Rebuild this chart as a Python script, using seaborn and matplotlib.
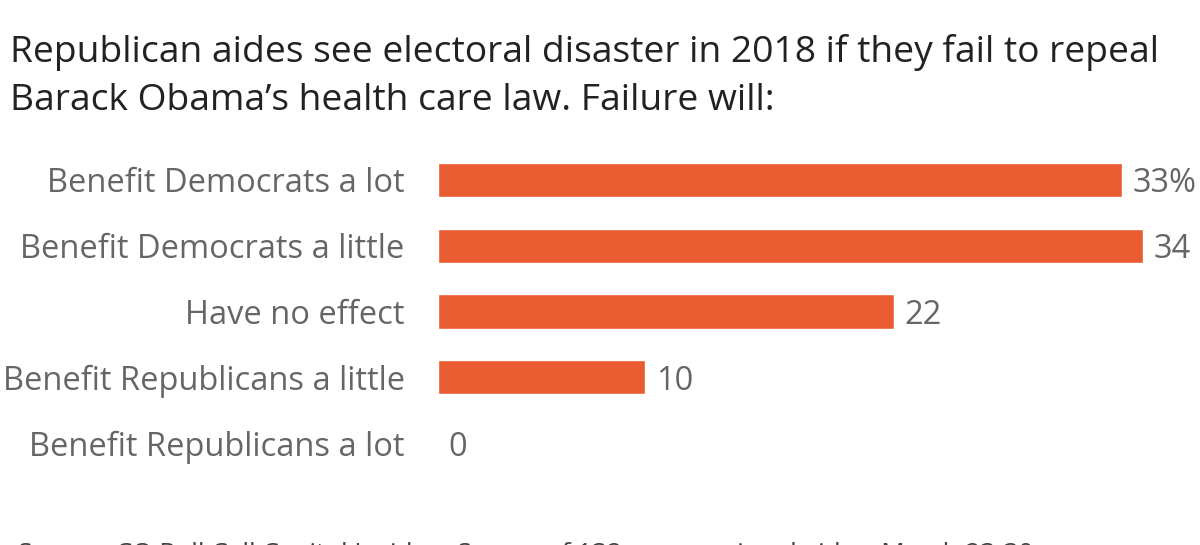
import matplotlib
matplotlib.use('Agg')
import matplotlib.pyplot as plt
import seaborn as sns
import pandas as pd

# Data
categories = ['Benefit Democrats a lot', 'Benefit Democrats a little', 'Have no effect',
              'Benefit Republicans a little', 'Benefit Republicans a lot']
values = [33, 34, 22, 10, 0]
value_labels = ['33%', '34', '22', '10', '0']

title = ("Republican aides see electoral disaster in 2018 if they fail to repeal\n"
         "Barack Obama\u2019s health care law. Failure will:")
source = "Source: CQ Roll Call Capitol Insiders Survey of 132 congressional aides, March 23-30"

df = pd.DataFrame({'category': categories, 'value': values})

sns.set_style('white')
plt.rcParams['font.family'] = ['Open Sans', 'DejaVu Sans']

fig = plt.figure(figsize=(12, 5.45), dpi=100)
ax = fig.add_axes([0.365, 0.1266, 0.635, 0.6037])

sns.barplot(data=df, x='value', y='category', color='#E95B30', saturation=1,
            width=0.52, ax=ax)

ax.set_xlim(0, 36.74)
ax.set_ylim(4.5, -0.5)
ax.set_xlabel('')
ax.set_ylabel('')
ax.set_xticks([])
ax.tick_params(axis='y', length=0, pad=24, labelsize=23.5, labelcolor='#666666')
sns.despine(ax=ax, left=True, bottom=True)

# value labels at the end of each bar
for i, (v, lab) in enumerate(zip(values, value_labels)):
    ax.text(v + 0.5, i, lab, va='center_baseline', ha='left', fontsize=23.5,
            color='#666666')

fig.text(0.008, 0.938, title, fontsize=26.8, color='#222222', ha='left', va='top',
         linespacing=1.46)
fig.text(0.015, -0.03, source, fontsize=18.8, color='#444444', ha='left', va='baseline')

fig.savefig('out.png', dpi=100)
